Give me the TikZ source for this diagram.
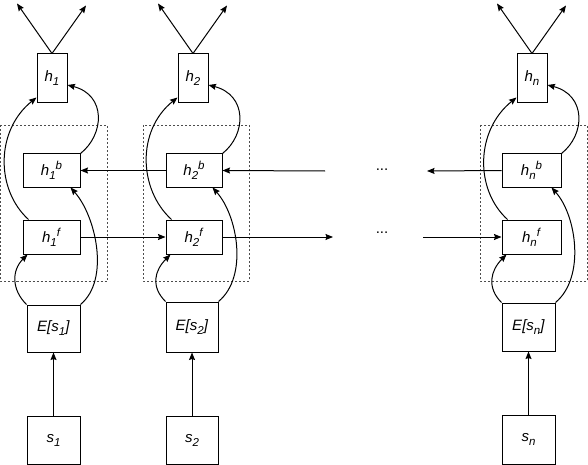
\documentclass[tikz,border=0pt]{standalone}
\usepackage{fontspec}
\setmainfont{Liberation Sans}
\usetikzlibrary{arrows.meta,calc}
\newcommand{\smallsz}{\fontsize{11.5}{12}\selectfont}
\newcommand{\lsub}[1]{\raisebox{-4pt}{\smallsz\textit{#1}}}
\newcommand{\lsup}[1]{\raisebox{6pt}{\smallsz\textit{#1}}}
\begin{document}
\begin{tikzpicture}[x=1pt,y=-1pt,
  font=\fontsize{15}{17}\selectfont,
  box/.style={draw, line width=1pt, fill=white, inner sep=0pt},
  grp/.style={draw=black!70, line width=0.7pt, dash pattern=on 2pt off 2pt},
  con/.style={-{Stealth[length=7.5pt,width=6pt,inset=1pt]}, line width=1pt},
  plain/.style={line width=1pt}]
\useasboundingbox[fill=white] (0,0) rectangle (588,465);

% dotted groups
\draw[grp] (0.5,125) rectangle (107,281);
\draw[grp] (143,125) rectangle (249,281);
\draw[grp] (480,125) rectangle (587,281);

% column 1
\node[box, minimum width=30pt, minimum height=49pt] (h1) at (52,78.5) {\textit{h}\lsub{1}};
\node[box, minimum width=57pt, minimum height=33pt] (h1b) at (51.5,170.5) {\textit{h}\lsub{1}\lsup{b}};
\node[box, minimum width=57pt, minimum height=34pt] (h1f) at (51.5,237) {\textit{h}\lsub{1}\lsup{f}};
\node[box, minimum width=53pt, minimum height=47pt] (E1) at (53.5,328.5) {\textit{E[s}\lsub{1}\textit{]}};
\node[box, minimum width=53pt, minimum height=48pt] (s1) at (53.5,440) {\textit{s}\lsub{1}};

% column 2
\node[box, minimum width=30pt, minimum height=49pt] (h2) at (193,78.5) {\textit{h}\lsub{2}};
\node[box, minimum width=56pt, minimum height=33pt] (h2b) at (194,170.5) {\textit{h}\lsub{2}\lsup{b}};
\node[box, minimum width=56pt, minimum height=34pt] (h2f) at (194,237) {\textit{h}\lsub{2}\lsup{f}};
\node[box, minimum width=52pt, minimum height=50pt] (E2) at (192,327) {\textit{E[s}\lsub{2}\textit{]}};
\node[box, minimum width=52pt, minimum height=48pt] (s2) at (192,440) {\textit{s}\lsub{2}};

% column n
\node[box, minimum width=30pt, minimum height=49pt] (hn) at (532,78.5) {\textit{h}\lsub{n}};
\node[box, minimum width=59pt, minimum height=33pt] (hnb) at (531.5,170.5) {\textit{h}\lsub{n}\lsup{b}};
\node[box, minimum width=59pt, minimum height=34pt] (hnf) at (531.5,237) {\textit{h}\lsub{n}\lsup{f}};
\node[box, minimum width=53pt, minimum height=48pt] (En) at (528.5,327) {\textit{E[s}\lsub{n}\textit{]}};
\node[box, minimum width=53pt, minimum height=49pt] (sn) at (528.5,439.5) {\textit{s}\lsub{n}};

% per-column connectors
\foreach \c in {1,2,n} {
  \coordinate (tl\c) at ($(h\c.north)+(-35,-50)$);
  \coordinate (tr\c) at ($(h\c.north)+(34,-48)$);
  \draw[con] (h\c.north) -- (tl\c);
  \draw[con] (h\c.north) -- (tr\c);
  \draw[con] (s\c.north) -- (E\c.south);
  \draw[con] ([xshift=6pt]h\c f.north west) .. controls +(-33,-30) and +(-41,33) .. ([yshift=6pt]h\c.south west);
  \draw[con] (h\c b.north east) .. controls +(24,-19) and +(39,10) .. ([yshift=-6.5pt]h\c.east);
  \draw[con] (E\c.north west) .. controls +(-15,-15) and +(-16,16) .. ([xshift=5pt]h\c f.south west);
  \draw[con] (E\c.north east) .. controls +(30,-25) and +(25,28) .. ([xshift=-10pt]h\c b.south east);
}

% horizontal chains
\coordinate (fo) at (333,237);
\coordinate (fi) at (423,237);
\coordinate (bo) at (427,171);
\coordinate (bi) at (325,171);
\draw[con] (h1f.east) -- (h2f.west);
\draw[con] (h2f.east) -- (fo);
\draw[con] (fi) -- (hnf.west);
\draw[con] (hnb.west) -- (bo);
\draw[con] (bi) -- (h2b.east);
\draw[con] (h2b.west) -- (h1b.east);

% ellipses
\node (dots1) at (382,170) {...};
\node (dots2) at (382,233) {...};
\end{tikzpicture}
\end{document}
